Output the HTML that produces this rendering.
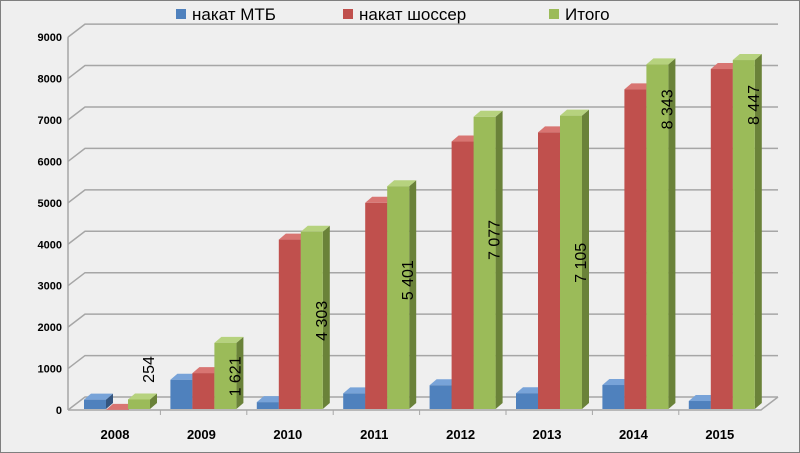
<!DOCTYPE html>
<html><head><meta charset="utf-8"><style>
html,body{margin:0;padding:0;background:#efefef;}
svg{display:block;font-family:"Liberation Sans",sans-serif;}
</style></head><body>
<svg id="chart" width="800" height="453" viewBox="0 0 800 453">
<rect x="0.5" y="0.5" width="799" height="452" fill="#efefef" stroke="#7f7f7f"/>
<g>
<g><rect x="176" y="9" width="10" height="10" fill="#4f81bd"/><text x="192" y="20" font-size="17" fill="#000">накат МТБ</text></g>
<g><rect x="343" y="9" width="10" height="10" fill="#c0504d"/><text x="359" y="20" font-size="17" fill="#000">накат шоссер</text></g>
<g><rect x="549" y="9" width="10" height="10" fill="#9bbb59"/><text x="565" y="20" font-size="17" fill="#000">Итого</text></g>
</g>
<g id="grid"></g>
<g id="axes"></g>
<g id="bars"></g>
<g id="labels"></g>
</svg>
<script>
const categories = ["2008","2009","2010","2011","2012","2013","2014","2015"];
const mtb = [250, 730, 190, 400, 597, 405, 603, 217];
const road = [4, 891, 4113, 5001, 6480, 6700, 7740, 8230];
const total = [254, 1621, 4303, 5401, 7077, 7105, 8343, 8447];
const totalLabels = ["254","1 621","4 303","5 401","7 077","7 105","8 343","8 447"];
const yTicks = [0,1000,2000,3000,4000,5000,6000,7000,8000,9000];

const NS="http://www.w3.org/2000/svg";
const y0=410, kY=0.04143, dx=17, dy=-13, axX=68, backEnd=778;
const bw=22, sd=7, so=6;
function yScale(v){return y0 - v*kY;}
function xGroup(i){return 117 + i*86.4;}
function mk(tag,attrs,parent){const e=document.createElementNS(NS,tag);for(const k in attrs)e.setAttribute(k,attrs[k]);parent.appendChild(e);return e;}
const grid=document.getElementById('grid'), axes=document.getElementById('axes'), bars=document.getElementById('bars'), labels=document.getElementById('labels');

yTicks.forEach(t=>{
  const y=yScale(t);
  const g=mk('polyline',{points:`${axX},${y} ${axX+dx},${y+dy} ${backEnd},${y+dy}`,fill:'none',stroke:'#a6a6a6','stroke-width':1.5},grid);
  
  
  const tx=mk('text',{x:62,y:y+4,'font-size':11,'font-weight':'bold','text-anchor':'end',fill:'#000'},axes);
  tx.textContent=t;
  
  
});
const fl=mk('polyline',{points:`${axX},${y0} ${backEnd-dx},${y0} ${backEnd},${y0+dy}`,fill:'none',stroke:'#a6a6a6','stroke-width':1.5},axes);


const ya=mk('line',{x1:axX,y1:y0,x2:axX,y2:yScale(9000),stroke:'#a6a6a6','stroke-width':1.5},axes);



const series=[{d:mtb,f:'#4f81bd',s:'#34557f',t:'#78a3d8',n:'mtb',off:-1},{d:road,f:'#c0504d',s:'#8c3836',t:'#d87572',n:'road',off:0},{d:total,f:'#9bbb59',s:'#6a8239',t:'#b6d27e',n:'total',off:1}];
categories.forEach((c,i)=>{
  const cx=xGroup(i);
  if(i>0){const tk=mk('line',{x1:cx-43,y1:y0,x2:cx-43,y2:y0+5,stroke:'#a6a6a6'},axes);}
  const lt=mk('text',{x:cx-2,y:439,'font-size':13,'font-weight':'bold','text-anchor':'middle',fill:'#000'},axes);
  lt.textContent=c;
  
  
  series.forEach(s=>{
    const x=cx-bw/2+s.off*bw, top=yScale(s.d[i]), bot=y0-1;
    const g=mk('g',{},bars);
    
    
    mk('polygon',{points:`${x+bw},${top} ${x+bw+sd},${top-so} ${x+bw+sd},${bot-so} ${x+bw},${bot}`,fill:s.s},g);
    mk('polygon',{points:`${x},${top} ${x+sd},${top-so} ${x+bw+sd},${top-so} ${x+bw},${top}`,fill:s.t},g);
    mk('rect',{x:x,y:top,width:bw,height:Math.max(0,bot-top),fill:s.f},g);
  });
  const gx=cx+bw+bw/2-1, top=yScale(total[i]), h=y0-top;
  let ly = h<40 ? top-30 : (h>300 ? top+45 : top+h/2);
  if(total[i]>5000 && total[i]<7100 && h<=300) ly=top+h*0.42;
  const dl=mk('text',{x:0,y:0,'font-size':16,'text-anchor':'middle',fill:'#000',transform:`translate(${gx+5},${ly}) rotate(-90)`},labels);
  dl.textContent=totalLabels[i];
  
  
});
</script>
</body></html>
